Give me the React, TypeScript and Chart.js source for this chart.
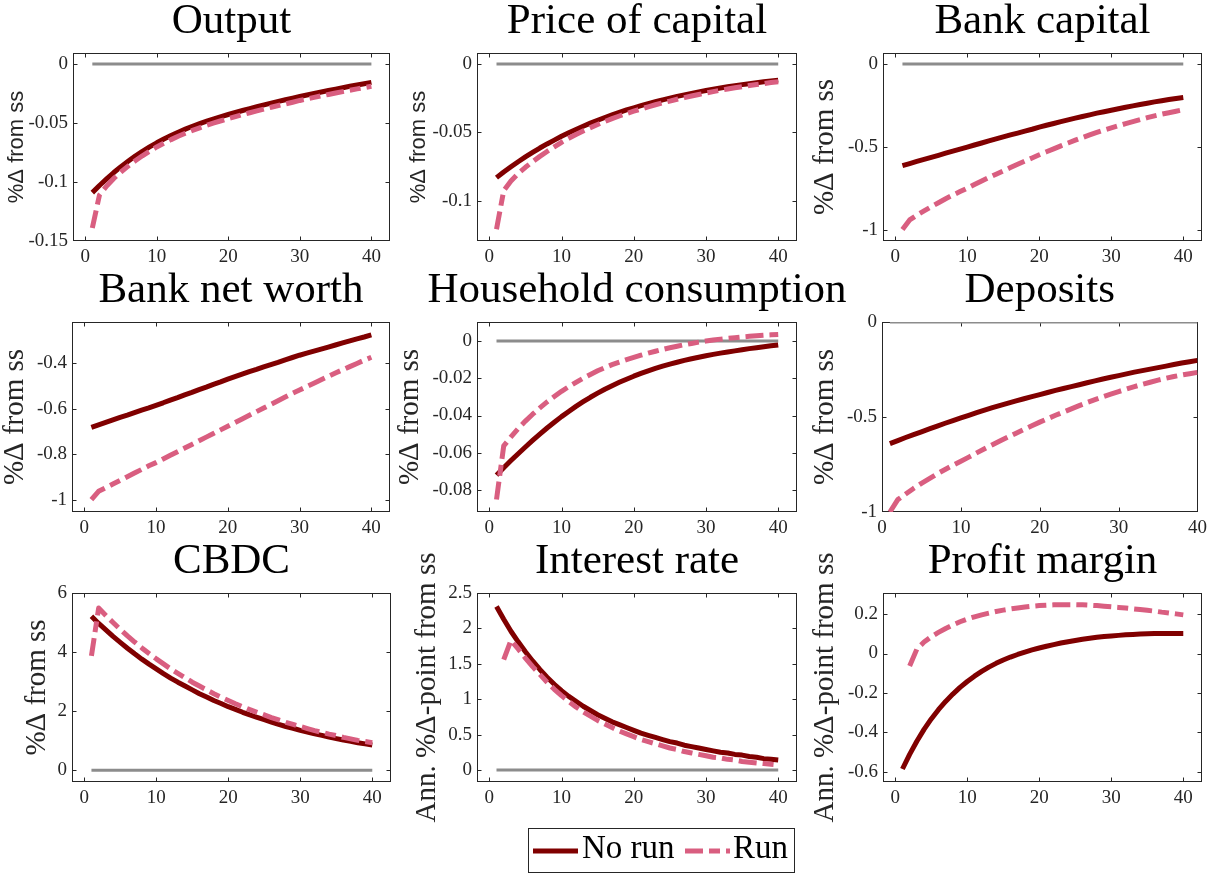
import React, { useEffect, useRef } from "react";
import { Chart, registerables } from "chart.js";

Chart.register(...registerables);

const SERIF = '"Liberation Serif", "Times New Roman", serif';
const SANS = '"Liberation Sans", Arial, sans-serif';
const NO_RUN_COLOR = "rgb(128, 0, 0)";
const RUN_COLOR = "rgb(217, 94, 128)";
const ZERO_COLOR = "rgb(140, 140, 140)";
const AXIS_COLOR = "#262626";
const RUN_DASH = [18, 6, 11, 6];

// ---------------- data ----------------
const periods = [1, 2, 3, 4, 5, 6, 7, 8, 9, 10, 11, 12, 13, 14, 15, 16, 17, 18, 19, 20,
  21, 22, 23, 24, 25, 26, 27, 28, 29, 30, 31, 32, 33, 34, 35, 36, 37, 38, 39, 40];
const zeroLine = [0, 0, 0, 0, 0, 0, 0, 0, 0, 0, 0, 0, 0, 0, 0, 0, 0, 0, 0, 0,
  0, 0, 0, 0, 0, 0, 0, 0, 0, 0, 0, 0, 0, 0, 0, 0, 0, 0, 0, 0];

const xTickValues = [0, 10, 20, 30, 40];
const xTickLabels = ["0", "10", "20", "30", "40"];

const outputNoRun = [-0.1090, -0.1030, -0.0974, -0.0920, -0.0870, -0.0824, -0.0780, -0.0740, -0.0703, -0.0668,
  -0.0636, -0.0606, -0.0578, -0.0552, -0.0528, -0.0506, -0.0485, -0.0465, -0.0446, -0.0428,
  -0.0411, -0.0394, -0.0378, -0.0362, -0.0347, -0.0332, -0.0317, -0.0303, -0.0289, -0.0276,
  -0.0263, -0.0250, -0.0237, -0.0225, -0.0213, -0.0201, -0.0189, -0.0178, -0.0167, -0.0156];
const outputRun = [-0.1390, -0.1110, -0.1034, -0.0970, -0.0915, -0.0866, -0.0820, -0.0778, -0.0740, -0.0703,
  -0.0671, -0.0641, -0.0613, -0.0587, -0.0563, -0.0541, -0.0520, -0.0500, -0.0481, -0.0463,
  -0.0446, -0.0429, -0.0413, -0.0397, -0.0382, -0.0367, -0.0352, -0.0338, -0.0324, -0.0309,
  -0.0296, -0.0283, -0.0270, -0.0258, -0.0246, -0.0234, -0.0222, -0.0211, -0.0200, -0.0189];
const outputYTicks = [-0.15, -0.1, -0.05, 0];
const outputYLabels = ["-0.15", "-0.1", "-0.05", "0"];

const priceNoRun = [-0.0830, -0.0789, -0.0751, -0.0714, -0.0679, -0.0646, -0.0614, -0.0584, -0.0556, -0.0528,
  -0.0502, -0.0478, -0.0455, -0.0432, -0.0411, -0.0391, -0.0372, -0.0354, -0.0336, -0.0320,
  -0.0305, -0.0290, -0.0276, -0.0262, -0.0250, -0.0237, -0.0226, -0.0215, -0.0204, -0.0194,
  -0.0185, -0.0176, -0.0167, -0.0159, -0.0151, -0.0144, -0.0137, -0.0130, -0.0124, -0.0118];
const priceRun = [-0.1207, -0.0925, -0.0855, -0.0800, -0.0755, -0.0714, -0.0675, -0.0639, -0.0605, -0.0572,
  -0.0543, -0.0515, -0.0489, -0.0465, -0.0442, -0.0420, -0.0399, -0.0380, -0.0362, -0.0345,
  -0.0329, -0.0313, -0.0298, -0.0284, -0.0271, -0.0258, -0.0246, -0.0234, -0.0223, -0.0212,
  -0.0202, -0.0192, -0.0183, -0.0174, -0.0166, -0.0158, -0.0150, -0.0143, -0.0136, -0.0130];
const priceYTicks = [-0.1, -0.05, 0];
const priceYLabels = ["-0.1", "-0.05", "0"];

const bankCapNoRun = [-0.613, -0.601, -0.588, -0.576, -0.563, -0.551, -0.538, -0.526, -0.514, -0.502,
  -0.489, -0.477, -0.464, -0.452, -0.440, -0.428, -0.417, -0.405, -0.394, -0.381,
  -0.370, -0.359, -0.348, -0.337, -0.327, -0.317, -0.307, -0.297, -0.288, -0.279,
  -0.270, -0.261, -0.253, -0.245, -0.237, -0.229, -0.222, -0.215, -0.208, -0.202];
const bankCapRun = [-0.998, -0.941, -0.912, -0.886, -0.861, -0.837, -0.813, -0.791, -0.770, -0.749,
  -0.727, -0.706, -0.685, -0.665, -0.645, -0.625, -0.605, -0.586, -0.567, -0.548,
  -0.530, -0.512, -0.494, -0.477, -0.460, -0.444, -0.428, -0.413, -0.399, -0.386,
  -0.373, -0.360, -0.348, -0.336, -0.324, -0.313, -0.303, -0.294, -0.285, -0.276];
const bankCapYTicks = [-1, -0.5, 0];
const bankCapYLabels = ["-1", "-0.5", "0"];

const netWorthNoRun = [-0.682, -0.671, -0.660, -0.649, -0.638, -0.628, -0.617, -0.606, -0.596, -0.585,
  -0.574, -0.562, -0.551, -0.539, -0.528, -0.516, -0.505, -0.493, -0.482, -0.470,
  -0.459, -0.448, -0.437, -0.427, -0.416, -0.406, -0.396, -0.385, -0.375, -0.365,
  -0.356, -0.347, -0.338, -0.329, -0.320, -0.311, -0.302, -0.293, -0.285, -0.276];
const netWorthRun = [-1.000, -0.963, -0.947, -0.931, -0.915, -0.899, -0.883, -0.867, -0.851, -0.837,
  -0.821, -0.805, -0.789, -0.773, -0.757, -0.741, -0.725, -0.709, -0.693, -0.677,
  -0.661, -0.645, -0.629, -0.613, -0.597, -0.581, -0.565, -0.549, -0.533, -0.518,
  -0.503, -0.488, -0.473, -0.458, -0.443, -0.429, -0.415, -0.401, -0.387, -0.374];
const netWorthYTicks = [-1, -0.8, -0.6, -0.4];
const netWorthYLabels = ["-1", "-0.8", "-0.6", "-0.4"];

const householdNoRun = [-0.0720, -0.0680, -0.0642, -0.0605, -0.0569, -0.0534, -0.0500, -0.0467, -0.0436, -0.0406,
  -0.0378, -0.0351, -0.0326, -0.0302, -0.0280, -0.0259, -0.0240, -0.0222, -0.0205, -0.0189,
  -0.0174, -0.0160, -0.0147, -0.0135, -0.0124, -0.0114, -0.0104, -0.0095, -0.0087, -0.0079,
  -0.0072, -0.0065, -0.0059, -0.0053, -0.0047, -0.0041, -0.0036, -0.0031, -0.0026, -0.0021];
const householdRun = [-0.0851, -0.0563, -0.0515, -0.0470, -0.0430, -0.0393, -0.0359, -0.0327, -0.0298, -0.0270,
  -0.0245, -0.0222, -0.0200, -0.0180, -0.0160, -0.0143, -0.0127, -0.0113, -0.0100, -0.0088,
  -0.0076, -0.0065, -0.0055, -0.0045, -0.0036, -0.0028, -0.0020, -0.0013, -0.0006, 0.0000,
  0.0005, 0.0010, 0.0014, 0.0018, 0.0022, 0.0025, 0.0028, 0.0031, 0.0033, 0.0035];
const householdYTicks = [-0.08, -0.06, -0.04, -0.02, 0];
const householdYLabels = ["-0.08", "-0.06", "-0.04", "-0.02", "0"];

const depositsNoRun = [-0.640, -0.624, -0.608, -0.593, -0.578, -0.563, -0.548, -0.533, -0.519, -0.505,
  -0.491, -0.477, -0.464, -0.451, -0.439, -0.427, -0.415, -0.404, -0.393, -0.382,
  -0.371, -0.360, -0.350, -0.340, -0.330, -0.320, -0.310, -0.300, -0.291, -0.282,
  -0.273, -0.264, -0.256, -0.248, -0.240, -0.232, -0.224, -0.216, -0.209, -0.202];
const depositsRun = [-1.000, -0.935, -0.905, -0.876, -0.849, -0.824, -0.799, -0.776, -0.754, -0.733,
  -0.711, -0.689, -0.667, -0.646, -0.625, -0.605, -0.585, -0.565, -0.546, -0.527,
  -0.509, -0.491, -0.474, -0.457, -0.440, -0.424, -0.409, -0.394, -0.380, -0.366,
  -0.353, -0.340, -0.328, -0.317, -0.306, -0.296, -0.287, -0.279, -0.272, -0.265];
const depositsYTicks = [-1, -0.5, 0];
const depositsYLabels = ["-1", "-0.5", "0"];

const cbdcNoRun = [5.21, 4.97, 4.75, 4.53, 4.33, 4.13, 3.94, 3.76, 3.59, 3.43,
  3.27, 3.12, 2.98, 2.85, 2.72, 2.59, 2.48, 2.36, 2.26, 2.15,
  2.06, 1.96, 1.87, 1.79, 1.71, 1.63, 1.55, 1.48, 1.42, 1.35,
  1.29, 1.23, 1.18, 1.12, 1.07, 1.02, 0.98, 0.93, 0.89, 0.85];
const cbdcRun = [3.87, 5.49, 5.24, 5.00, 4.77, 4.55, 4.34, 4.14, 3.95, 3.77,
  3.60, 3.43, 3.28, 3.13, 2.98, 2.85, 2.72, 2.59, 2.47, 2.36,
  2.25, 2.15, 2.05, 1.96, 1.87, 1.78, 1.70, 1.62, 1.55, 1.48,
  1.41, 1.34, 1.28, 1.22, 1.17, 1.11, 1.06, 1.01, 0.97, 0.93];
const cbdcYTicks = [0, 2, 4, 6];
const cbdcYLabels = ["0", "2", "4", "6"];

const rateNoRun = [2.31, 2.13, 1.96, 1.81, 1.67, 1.54, 1.42, 1.31, 1.21, 1.12,
  1.04, 0.97, 0.90, 0.84, 0.78, 0.73, 0.68, 0.64, 0.60, 0.56,
  0.52, 0.49, 0.46, 0.43, 0.40, 0.38, 0.35, 0.33, 0.31, 0.29,
  0.27, 0.25, 0.24, 0.22, 0.21, 0.19, 0.18, 0.16, 0.15, 0.14];
const rateRun = [null, 1.56, 1.83, 1.71, 1.58, 1.46, 1.35, 1.24, 1.14, 1.05,
  0.97, 0.89, 0.82, 0.76, 0.70, 0.65, 0.60, 0.55, 0.51, 0.47,
  0.43, 0.40, 0.37, 0.34, 0.31, 0.29, 0.26, 0.24, 0.22, 0.20,
  0.18, 0.17, 0.15, 0.14, 0.12, 0.11, 0.10, 0.09, 0.08, 0.07];
const rateYTicks = [0, 0.5, 1, 1.5, 2, 2.5];
const rateYLabels = ["0", "0.5", "1", "1.5", "2", "2.5"];

const marginNoRun = [-0.586, -0.512, -0.445, -0.385, -0.332, -0.285, -0.243, -0.206, -0.172, -0.142,
  -0.115, -0.091, -0.069, -0.050, -0.033, -0.018, -0.005, 0.007, 0.018, 0.028,
  0.037, 0.045, 0.053, 0.060, 0.066, 0.072, 0.077, 0.082, 0.086, 0.089,
  0.092, 0.095, 0.097, 0.099, 0.100, 0.101, 0.102, 0.102, 0.102, 0.102];
const marginRun = [null, -0.063, 0.022, 0.058, 0.085, 0.107, 0.127, 0.145, 0.161, 0.175,
  0.186, 0.196, 0.205, 0.213, 0.220, 0.226, 0.231, 0.236, 0.240, 0.243,
  0.245, 0.247, 0.248, 0.248, 0.248, 0.247, 0.245, 0.243, 0.240, 0.237,
  0.234, 0.231, 0.227, 0.223, 0.219, 0.215, 0.210, 0.206, 0.201, 0.196];
const marginYTicks = [-0.6, -0.4, -0.2, 0, 0.2];
const marginYLabels = ["-0.6", "-0.4", "-0.2", "0", "0.2"];

const seriesLabels = ["No run", "Run"];

// ---------------- layout ----------------
type Rect = { l: number; t: number; r: number; b: number };
type PanelCfg = {
  title: string;
  ylabel: string;
  sansLabel?: boolean;
  noRun: (number | null)[];
  run: (number | null)[];
  showZero: boolean;
  yMin: number;
  yMax: number;
  yTicks: number[];
  yLabels: string[];
  xMin: number;
  xMax: number;
  rect: Rect;
  labelX: number;
  legend?: boolean;
};

const PCT = "%\u0394 from ss";
const ANN = "Ann. %\u0394-point from ss";
const XMIN = -1.7;
const XMAX = 42.6;

const panels: PanelCfg[] = [
  { title: "Output", ylabel: PCT, sansLabel: true, noRun: outputNoRun, run: outputRun, showZero: true, yMin: -0.15, yMax: 0.0093, yTicks: outputYTicks, yLabels: outputYLabels, xMin: XMIN, xMax: XMAX, rect: { l: 73, t: 53, r: 390, b: 241 }, labelX: 17 },
  { title: "Price of capital", ylabel: PCT, sansLabel: true, noRun: priceNoRun, run: priceRun, showZero: true, yMin: -0.1293, yMax: 0.008, yTicks: priceYTicks, yLabels: priceYLabels, xMin: XMIN, xMax: XMAX, rect: { l: 477, t: 53, r: 797, b: 241 }, labelX: 419 },
  { title: "Bank capital", ylabel: PCT, noRun: bankCapNoRun, run: bankCapRun, showZero: true, yMin: -1.068, yMax: 0.066, yTicks: bankCapYTicks, yLabels: bankCapYLabels, xMin: XMIN, xMax: XMAX, rect: { l: 883, t: 53, r: 1202, b: 241 }, labelX: 825 },
  { title: "Bank net worth", ylabel: PCT, noRun: netWorthNoRun, run: netWorthRun, showZero: false, yMin: -1.054, yMax: -0.219, yTicks: netWorthYTicks, yLabels: netWorthYLabels, xMin: XMIN, xMax: XMAX, rect: { l: 72, t: 322, r: 390, b: 512 }, labelX: 15 },
  { title: "Household consumption", ylabel: PCT, noRun: householdNoRun, run: householdRun, showZero: true, yMin: -0.0918, yMax: 0.0102, yTicks: householdYTicks, yLabels: householdYLabels, xMin: XMIN, xMax: XMAX, rect: { l: 477, t: 322, r: 797, b: 512 }, labelX: 410 },
  { title: "Deposits", ylabel: PCT, noRun: depositsNoRun, run: depositsRun, showZero: true, yMin: -1, yMax: 0, yTicks: depositsYTicks, yLabels: depositsYLabels, xMin: 0, xMax: 40, rect: { l: 882, t: 322, r: 1202, b: 512 }, labelX: 825 },
  { title: "CBDC", ylabel: PCT, noRun: cbdcNoRun, run: cbdcRun, showZero: true, yMin: -0.4, yMax: 6, yTicks: cbdcYTicks, yLabels: cbdcYLabels, xMin: XMIN, xMax: XMAX, rect: { l: 72, t: 593, r: 391, b: 782 }, labelX: 37 },
  { title: "Interest rate", ylabel: ANN, noRun: rateNoRun, run: rateRun, showZero: true, yMin: -0.17, yMax: 2.5, yTicks: rateYTicks, yLabels: rateYLabels, xMin: XMIN, xMax: XMAX, rect: { l: 477, t: 593, r: 797, b: 782 }, labelX: 427, legend: true },
  { title: "Profit margin", ylabel: ANN, noRun: marginNoRun, run: marginRun, showZero: false, yMin: -0.652, yMax: 0.307, yTicks: marginYTicks, yLabels: marginYLabels, xMin: XMIN, xMax: XMAX, rect: { l: 883, t: 593, r: 1202, b: 782 }, labelX: 825 },
];

function makeDecor(cfg: PanelCfg, offX: number, offY: number) {
  return {
    id: "panelDecor",
    beforeDatasetsDraw(chart: any) {
      const { ctx, chartArea: a, scales } = chart;
      ctx.save();
      ctx.strokeStyle = AXIS_COLOR;
      ctx.lineWidth = 1;
      const L = Math.round(a.left) + 0.5;
      const R = Math.round(a.right) - 0.5;
      const T = Math.round(a.top) + 0.5;
      const B = Math.round(a.bottom) - 0.5;
      ctx.strokeRect(L, T, R - L, B - T);
      const tl = 4;
      ctx.beginPath();
      for (const t of scales.x.ticks) {
        const px = Math.round(scales.x.getPixelForValue(t.value)) + 0.5;
        if (px < L - 0.1 || px > R + 0.1) continue;
        ctx.moveTo(px, B); ctx.lineTo(px, B - tl);
        ctx.moveTo(px, T); ctx.lineTo(px, T + tl);
      }
      for (const t of scales.y.ticks) {
        const py = Math.round(scales.y.getPixelForValue(t.value)) + 0.5;
        if (py < T - 0.1 || py > B + 0.1) continue;
        ctx.moveTo(L, py); ctx.lineTo(L + tl, py);
        ctx.moveTo(R, py); ctx.lineTo(R - tl, py);
      }
      ctx.stroke();
      ctx.restore();
    },
    afterDraw(chart: any) {
      const { ctx, chartArea: a } = chart;
      ctx.save();
      ctx.fillStyle = "#000";
      ctx.font = `43px ${SERIF}`;
      ctx.textAlign = "center";
      ctx.textBaseline = "alphabetic";
      ctx.fillText(cfg.title, (a.left + a.right) / 2, a.top - 20);
      if (cfg.legend) {
        const bx = 528 - offX, by = 828 - offY, bw = 267, bh = 45;
        ctx.fillStyle = "#ffffff";
        ctx.fillRect(bx, by, bw, bh);
        ctx.strokeStyle = AXIS_COLOR;
        ctx.lineWidth = 1;
        ctx.strokeRect(bx + 0.5, by + 0.5, bw - 1, bh - 1);
        const ds = chart.data.datasets;
        const entries = [
          { d: ds[1], x0: 533, x1: 578, tx: 582 },
          { d: ds[0], x0: 685, x1: 730, tx: 733 },
        ];
        const cy = 851 - offY;
        for (const e of entries) {
          ctx.beginPath();
          ctx.setLineDash(e.d.borderDash || []);
          ctx.lineCap = "butt";
          ctx.strokeStyle = e.d.borderColor;
          ctx.lineWidth = e.d.borderWidth;
          ctx.moveTo(e.x0 - offX, cy);
          ctx.lineTo(e.x1 - offX, cy);
          ctx.stroke();
          ctx.setLineDash([]);
          ctx.fillStyle = "#000";
          ctx.font = `33px ${SERIF}`;
          ctx.textAlign = "left";
          ctx.textBaseline = "alphabetic";
          ctx.fillText(e.d.label, e.tx - offX, 858 - offY);
        }
      }
      ctx.restore();
    },
  };
}

function Panel({ cfg }: { cfg: PanelCfg }) {
  const ref = useRef<HTMLCanvasElement | null>(null);
  const left = Math.round(cfg.labelX - 20);
  const top = cfg.rect.t - 60;
  const right = Math.min(cfg.rect.r + 50, 1212);
  const bottom = cfg.rect.t > 500 ? 874 : cfg.rect.b + 30;
  const width = right - left;
  const height = bottom - top;
  const labelSize = cfg.sansLabel ? 22 : 29;

  useEffect(() => {
    if (!ref.current) return;
    const datasets: any[] = [
      { label: seriesLabels[1], data: cfg.run, borderColor: RUN_COLOR, borderWidth: 5, borderDash: RUN_DASH, pointRadius: 0, fill: false, tension: 0, spanGaps: false, borderCapStyle: "butt", borderJoinStyle: "round" },
      { label: seriesLabels[0], data: cfg.noRun, borderColor: NO_RUN_COLOR, borderWidth: 5, pointRadius: 0, fill: false, tension: 0, borderCapStyle: "butt", borderJoinStyle: "round" },
    ];
    if (cfg.showZero) {
      datasets.push({ label: "ss", data: zeroLine, borderColor: ZERO_COLOR, borderWidth: 3, pointRadius: 0, fill: false, tension: 0, borderCapStyle: "butt" });
    }
    const chart = new Chart(ref.current, {
      type: "line",
      data: { labels: periods, datasets } as any,
      options: {
        responsive: false,
        animation: false,
        devicePixelRatio: 1,
        events: [],
        layout: { autoPadding: false, padding: { top: 60, right: right - cfg.rect.r, bottom: 0, left: 0 } },
        plugins: { legend: { display: false }, tooltip: { enabled: false }, title: { display: false } },
        scales: {
          x: {
            type: "linear",
            min: cfg.xMin,
            max: cfg.xMax,
            bounds: "data",
            grid: { display: false, drawTicks: false },
            border: { display: false },
            ticks: {
              autoSkip: false,
              maxRotation: 0,
              padding: 5,
              color: AXIS_COLOR,
              font: { family: SERIF, size: 19 },
              callback: (_v: any, i: number) => xTickLabels[i],
            },
            afterBuildTicks: (s: any) => { s.ticks = xTickValues.map((v) => ({ value: v })); },
            afterFit: (s: any) => { s.height = bottom - cfg.rect.b; },
          },
          y: {
            type: "linear",
            min: cfg.yMin,
            max: cfg.yMax,
            bounds: "data",
            grid: { display: false, drawTicks: false },
            border: { display: false },
            ticks: {
              autoSkip: false,
              padding: 5,
              color: AXIS_COLOR,
              font: { family: SERIF, size: 19 },
              callback: (_v: any, i: number) => cfg.yLabels[i],
            },
            title: {
              display: true,
              text: cfg.ylabel,
              color: AXIS_COLOR,
              font: { family: cfg.sansLabel ? SANS : SERIF, size: labelSize, lineHeight: 1 },
              padding: { top: 20 - labelSize / 2, bottom: 0 },
            },
            afterBuildTicks: (s: any) => { s.ticks = cfg.yTicks.map((v) => ({ value: v })); },
            afterFit: (s: any) => { s.width = cfg.rect.l - left; },
          },
        },
      } as any,
      plugins: [makeDecor(cfg, left, top) as any],
    });
    return () => chart.destroy();
  }, [cfg]);

  return (
    <canvas
      ref={ref}
      width={width}
      height={height}
      style={{ position: "absolute", left, top, width, height }}
    />
  );
}

export default function App() {
  return (
    <div style={{ position: "absolute", left: 0, top: 0, width: 1212, height: 874, overflow: "hidden", background: "#ffffff" }}>
      {panels.map((p, i) => (
        <Panel key={i} cfg={p} />
      ))}
    </div>
  );
}
